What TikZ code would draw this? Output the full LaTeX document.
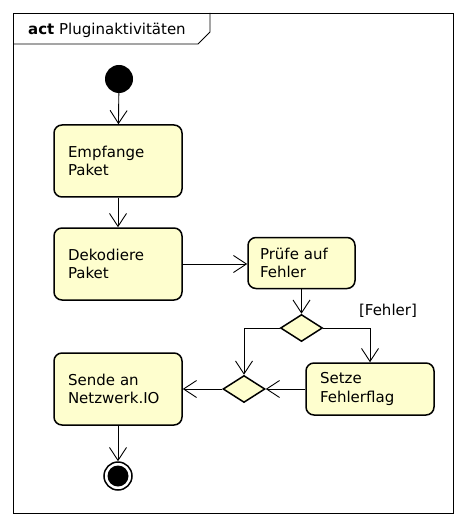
\documentclass[tikz,border=0pt]{standalone}
\usepackage{fontspec}
\setmainfont{DejaVu Sans}
\usetikzlibrary{arrows.meta,shapes.geometric}
\definecolor{actfill}{HTML}{FEFECE}
\tikzset{
  action/.style={draw, fill=actfill, line width=1.5pt, rounded corners=8pt,
    minimum width=128pt, minimum height=72pt, text width=100pt, inner xsep=14pt,
    align=left, font=\fontsize{15}{18.5}\selectfont},
  decision/.style={draw, fill=actfill, diamond, line width=1.5pt,
    minimum width=42pt, minimum height=27pt, inner sep=0pt},
  flow/.style={-{Straight Barb[length=13pt,width=17pt]}, line width=0.9pt},
}
\begin{document}
\begin{tikzpicture}[x=1pt,y=-1pt]
    \useasboundingbox (0,0) rectangle (466,526);
    % frame
    \draw[line width=0.9pt] (13,13) rectangle (453,513);
    \draw[line width=0.9pt] (13,44) -- (198,44) -- (210,32) -- (210,13);
    \node[anchor=west, inner sep=0pt, font=\fontsize{15}{18}\selectfont] (titel) at (28,30) {\textbf{act} Pluginaktivitäten};

    \node[circle, fill=black, minimum size=28pt, inner sep=0pt] (start) at (119,79) {};
    \node[action] (empfange) at (118,161) {Empfange\\Paket};
    \node[action] (dekodiere) at (118,264) {Dekodiere\\Paket};
    \node[action, minimum width=107pt, minimum height=51pt, text width=83pt, inner xsep=12pt] (pruefe) at (301.5,263) {Prüfe auf\\Fehler};
    \node[decision] (entscheidung) at (301.5,328) {};
    \node[action, minimum height=52pt] (setze) at (370,389) {Setze\\Fehlerflag};
    \node[decision] (zusammen) at (244,389) {};
    \node[action] (sende) at (118,389) {Sende an\\Netzwerk.IO};
    \node[circle, draw, fill=white, line width=1.5pt, minimum size=28pt, inner sep=0pt] (ende) at (118,476) {};
    \fill (ende) circle (10.5pt);
    \node[font=\fontsize{15}{18}\selectfont] (fehler) at (388,311) {[Fehler]};

    \draw[flow] (start) -- (empfange);
    \draw[flow] (empfange) -- (dekodiere);
    \draw[flow] (dekodiere.east) -- (dekodiere.east -| pruefe.west);
    \draw[flow] (pruefe) -- (entscheidung);
    \draw[flow] (entscheidung.west) -| (zusammen.north);
    \draw[flow] (entscheidung.east) -| (setze.north);
    \draw[flow] (setze.west) -- (zusammen.east);
    \draw[flow] (zusammen.west) -- (sende.east);
    \draw[flow] (sende) -- (ende);
\end{tikzpicture}
\end{document}
